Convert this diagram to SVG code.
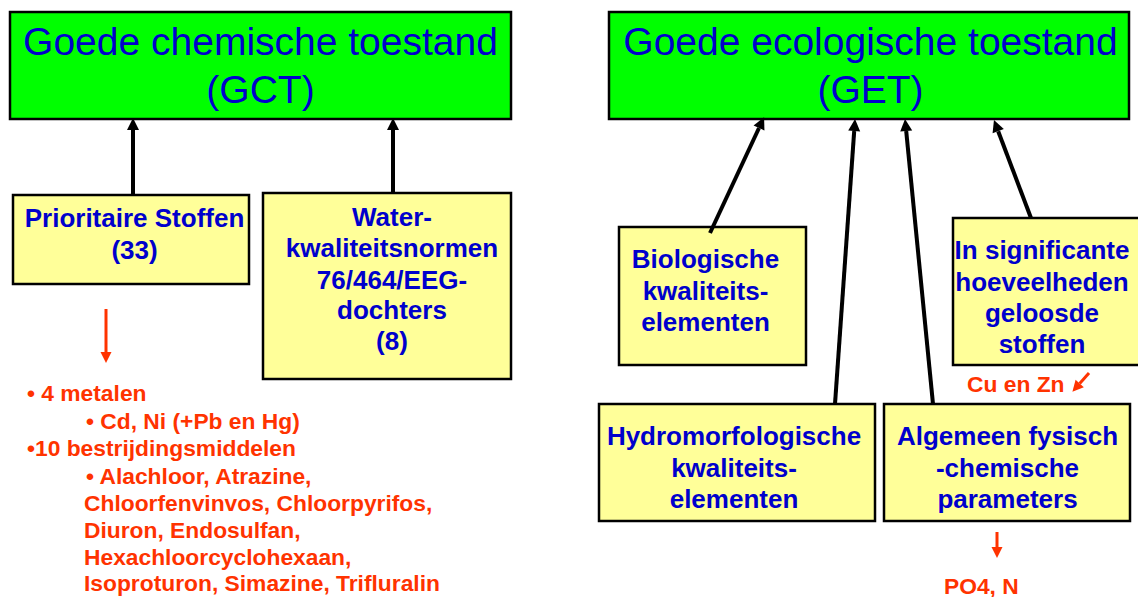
<svg xmlns="http://www.w3.org/2000/svg" width="1138" height="597" viewBox="0 0 1138 597">
<defs>
<style>
.top{fill:#00FF00;stroke:#000;stroke-width:2.5}
.box{fill:#FFFF99;stroke:#000;stroke-width:2.5}
.title{font-family:"Liberation Sans",Arial,sans-serif;font-size:39px;fill:#0000CC;text-anchor:middle}
.lbl{font-family:"Liberation Sans",Arial,sans-serif;font-weight:bold;font-size:26px;fill:#0000CC;text-anchor:middle}
.red{font-family:"Liberation Sans",Arial,sans-serif;font-weight:bold;font-size:22.8px;fill:#FF3300}
.conn{stroke:#000;stroke-width:4;fill:none;marker-end:url(#bh)}
.rconn{stroke:#FF3300;stroke-width:3;fill:none;marker-end:url(#rh)}
</style>
<marker id="bh" markerUnits="userSpaceOnUse" markerWidth="13" markerHeight="13" viewBox="0 -6.5 13 13" refX="0" refY="0" orient="auto" overflow="visible">
<path d="M0,-6 L12,0 L0,6 z" fill="#000"/>
</marker>
<marker id="rh" markerUnits="userSpaceOnUse" markerWidth="12" markerHeight="12" viewBox="0 -6 12 12" refX="0" refY="0" orient="auto" overflow="visible">
<path d="M0,-5.5 L11,0 L0,5.5 z" fill="#FF3300"/>
</marker>
</defs>
<rect width="1138" height="597" fill="#fff"/>

<g id="gct">
<rect class="top" x="10" y="12" width="501" height="107"/>
<text class="title" x="260.5" y="55">Goede chemische toestand</text>
<text class="title" x="260.5" y="103">(GCT)</text>
</g>

<g id="get">
<rect class="top" x="609" y="12" width="520" height="107"/>
<text class="title" x="870.5" y="55">Goede ecologische toestand</text>
<text class="title" x="870.5" y="103">(GET)</text>
</g>

<g id="prioritaire">
<rect class="box" x="13" y="195" width="236" height="89"/>
<text class="lbl" x="134.5" y="227">Prioritaire Stoffen</text>
<text class="lbl" x="134.5" y="259">(33)</text>
</g>

<g id="water">
<rect class="box" x="263" y="193" width="248" height="186"/>
<text class="lbl" x="392" y="226">Water-</text>
<text class="lbl" x="392" y="257">kwaliteitsnormen</text>
<text class="lbl" x="392" y="289">76/464/EEG-</text>
<text class="lbl" x="392" y="319">dochters</text>
<text class="lbl" x="392" y="350">(8)</text>
</g>

<g id="stoffenlijst">
<text class="red" x="27" y="401">• 4 metalen</text>
<text class="red" x="86" y="429">• Cd, Ni (+Pb en Hg)</text>
<text class="red" x="27" y="456">•10 bestrijdingsmiddelen</text>
<text class="red" x="86" y="484">• Alachloor, Atrazine,</text>
<text class="red" x="84" y="511">Chloorfenvinvos, Chloorpyrifos,</text>
<text class="red" x="84" y="538">Diuron, Endosulfan,</text>
<text class="red" x="84" y="565">Hexachloorcyclohexaan,</text>
<text class="red" x="84" y="591">Isoproturon, Simazine, Trifluralin</text>
</g>

<g id="biologische">
<rect class="box" x="619" y="227" width="187" height="138"/>
<text class="lbl" x="705.5" y="268">Biologische</text>
<text class="lbl" x="705.5" y="300">kwaliteits-</text>
<text class="lbl" x="705.5" y="331">elementen</text>
</g>

<g id="significante">
<rect class="box" x="953" y="218" width="200" height="147"/>
<text class="lbl" x="1042" y="259">In significante</text>
<text class="lbl" x="1042" y="291">hoeveelheden</text>
<text class="lbl" x="1042" y="322">geloosde</text>
<text class="lbl" x="1042" y="353">stoffen</text>
</g>

<g id="cuzn">
<text class="red" x="967" y="392">Cu en Zn</text>
</g>

<g id="hydro">
<rect class="box" x="599" y="404" width="276" height="117"/>
<text class="lbl" x="734" y="445">Hydromorfologische</text>
<text class="lbl" x="734" y="477">kwaliteits-</text>
<text class="lbl" x="734" y="508">elementen</text>
</g>

<g id="algemeen">
<rect class="box" x="884" y="404" width="246" height="117"/>
<text class="lbl" x="1007.5" y="445">Algemeen fysisch</text>
<text class="lbl" x="1007.5" y="477">-chemische</text>
<text class="lbl" x="1007.5" y="508">parameters</text>
</g>

<g id="po4n">
<text class="red" x="944" y="594">PO4, N</text>
</g>

<g id="connectors">
<line class="conn" x1="133" y1="195" x2="133" y2="130"/>
<line class="conn" x1="393" y1="193" x2="393" y2="130"/>
<line class="conn" x1="710" y1="233" x2="759" y2="128"/>
<line class="conn" x1="835" y1="404" x2="854.2" y2="131"/>
<line class="conn" x1="933" y1="404" x2="906.2" y2="131"/>
<line class="conn" x1="1031" y1="218" x2="998.2" y2="131.2"/>
<line class="rconn" x1="106" y1="309" x2="106" y2="352"/>
<line class="rconn" x1="997" y1="532" x2="997" y2="547"/>
<line class="rconn" x1="1089" y1="373" x2="1079.7" y2="383.5"/>
</g>
</svg>
